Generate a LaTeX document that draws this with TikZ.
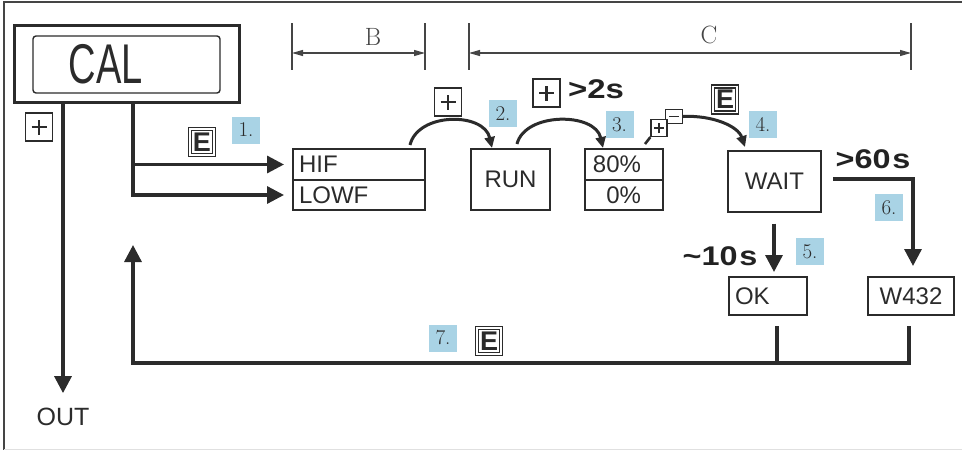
\documentclass[tikz,border=0pt]{standalone}
\usepackage{fontspec}
\newfontfamily\sans{Liberation Sans}
\usetikzlibrary{arrows.meta}
\definecolor{ink}{HTML}{2B2B2B}
\definecolor{lblue}{HTML}{A9D3E5}
\definecolor{dimc}{HTML}{454545}
\begin{document}
\begin{tikzpicture}[x=1pt,y=-1pt,
  box/.style={draw=ink, line width=2pt, inner sep=0pt, font=\sans\fontsize{24}{28}\selectfont, text=ink},
  num/.style={fill=lblue, minimum width=28pt, minimum height=27pt, inner sep=0pt, font=\fontsize{21}{22}\selectfont, text=ink},
  pluskey/.style={draw=ink, fill=white, line width=1.8pt, minimum width=27pt, minimum height=28pt, inner sep=0pt,
    path picture={\draw[ink, line width=2.2pt] ([xshift=-7.5pt]path picture bounding box.center) -- ([xshift=7.5pt]path picture bounding box.center) ([yshift=-7.5pt]path picture bounding box.center) -- ([yshift=7.5pt]path picture bounding box.center);}},
  ekey/.style={draw=ink, double, double distance=1.1pt, line width=1.5pt, minimum width=24pt, minimum height=26pt, inner sep=0pt, font=\sans\bfseries\fontsize{27}{27}\selectfont, text=ink},
  flow/.style={draw=ink, line width=3.3pt, -{Triangle[length=17pt,width=17pt]}},
  plain/.style={draw=ink, line width=3.3pt},
  arcflow/.style={draw=ink, line width=3pt, -{Triangle[length=11pt,width=10pt]}},
  dim/.style={draw=dimc, line width=1.1pt},
  dimtip/.style={dim, {Triangle[length=11pt,width=6pt]}-{Triangle[length=11pt,width=6pt]}},
  boldtxt/.style={font=\sans\bfseries\fontsize{27}{27}\selectfont, text=ink!80!black, inner sep=0pt},
  dimtxt/.style={font=\fontsize{25}{25}\selectfont, text=dimc, inner sep=0pt}
]
\useasboundingbox (0,0) rectangle (962,450);
% outer frame
\draw[line width=1.5pt, dimc] (4,450) -- (4,2) -- (962,2);
\draw[line width=1pt, black!12] (4,449) -- (962,449);

% CAL display
\node[draw=ink, line width=2.5pt, minimum width=225pt, minimum height=77pt, inner sep=0pt] (calf) at (127,64) {};
\node[draw=ink, line width=1.4pt, rounded corners=3pt, minimum width=187pt, minimum height=57pt, inner sep=0pt] (cald) at (126.5,64.5) {};
\node[font=\sans\fontsize{56}{56}\selectfont, text=ink, inner sep=0pt] (cal) at (106,64) {\scalebox{0.68}[1]{CAL}};

% dimension lines
\coordinate (b1t) at (292,23); \coordinate (b1b) at (292,70);
\coordinate (b2t) at (425,23); \coordinate (b2b) at (425,70);
\coordinate (c1t) at (469,23); \coordinate (c1b) at (469,70);
\coordinate (c2t) at (911,23); \coordinate (c2b) at (911,70);
\draw[dim] (b1t) -- (b1b); \draw[dim] (b2t) -- (b2b);
\draw[dim] (c1t) -- (c1b); \draw[dim] (c2t) -- (c2b);
\coordinate (ba) at (292,53); \coordinate (bb) at (425,53);
\coordinate (ca) at (469,53); \coordinate (cb) at (911,53);
\draw[dimtip] (ba) -- (bb);
\draw[dimtip] (ca) -- (cb);
\node[dimtxt] (lb) at (373,37) {B};
\node[dimtxt] (lc) at (709,35) {C};

% boxes
\node[box, minimum width=132pt, minimum height=31pt, text width=120pt, align=left] (hif) at (359,164.5) {HIF};
\node[box, minimum width=132pt, minimum height=30pt, text width=120pt, align=left] (lowf) at (359,195) {LOWF};
\node[box, minimum width=79pt, minimum height=61pt] (run) at (510.5,179.5) {RUN};
\node[box, minimum width=78pt, minimum height=31pt] (p80) at (624,164.5) {};
\node[box, minimum width=78pt, minimum height=30pt] (p0) at (624,195) {};
\node[box, draw=none, anchor=east] (t80) at (642,164.5) {80\%};
\node[box, draw=none, anchor=east] (t0) at (642,195) {0\%};
\node[box, minimum width=93pt, minimum height=61pt] (wait) at (774.5,181) {WAIT};
\node[box, minimum width=78pt, minimum height=38pt, text width=66pt, align=left] (ok) at (768,296) {OK};
\node[box, minimum width=86pt, minimum height=38pt] (w432) at (911,296) {W432};

% OUT
\node[font=\sans\fontsize{25}{25}\selectfont, text=ink] (outn) at (63,417) {OUT};
\draw[flow, shorten >=11.5pt] (calf.south -| outn) -- (outn.north);

% branches to HIF / LOWF
\coordinate (cbr) at (133,102.5);
\draw[flow, shorten >=8pt] (cbr) |- (lowf.west);
\draw[flow, shorten >=8pt] (cbr |- hif.west) -- (hif.west);

% arcs
\coordinate (a1s) at (410,145); \coordinate (a1e) at (492,148);
\coordinate (a2s) at (517,144); \coordinate (a2e) at (603,148);
\draw[arcflow] (a1s) .. controls (418,112) and (484,112) .. (a1e);
\draw[arcflow] (a2s) .. controls (525,112) and (595,112) .. (a2e);
\coordinate (a3e) at (745,147);
\node[draw=ink, fill=white, line width=1.3pt, minimum width=17pt, minimum height=14pt, inner sep=0pt,
  path picture={\draw[ink, line width=1.6pt] ([xshift=-5pt]path picture bounding box.center) -- ([xshift=5pt]path picture bounding box.center);}] (mk) at (674,116.5) {};
\draw[arcflow] (mk.east) .. controls (712,115) and (738,126) .. (a3e);
\node[draw=ink, fill=white, line width=1.3pt, minimum width=16pt, minimum height=17pt, inner sep=0pt,
  path picture={\draw[ink, line width=1.6pt] ([xshift=-5pt]path picture bounding box.center) -- ([xshift=5pt]path picture bounding box.center) ([yshift=-5pt]path picture bounding box.center) -- ([yshift=5pt]path picture bounding box.center);}] (pk) at (659,128) {};
\coordinate (pkl) at (645,144);
\draw[plain, line width=2.6pt] (pk.south west) -- (pkl);

% WAIT -> OK, WAIT -> W432
\coordinate (okn) at ([xshift=6pt]ok.north);
\draw[flow, shorten <=11pt, shorten >=4pt] (wait.south -| okn) -- (okn);
\coordinate (w6s) at (833,179);
\coordinate (w6e) at ([xshift=2pt]w432.north);
\draw[flow, shorten >=10pt] (w6s) -| (w6e);

% return path
\coordinate (oks) at ([yshift=-10pt,xshift=9pt]ok.south);
\coordinate (ws) at ([yshift=-10pt,xshift=-2pt]w432.south);
\coordinate (bot) at (133,363);
\coordinate (ret) at (133,245);
\draw[flow] (ws) |- (bot) -- (ret);
\draw[plain] (oks) -- (oks |- bot);

% keys
\node[pluskey] (k0) at (39,127) {};
\node[pluskey] (k1) at (448,102) {};
\node[pluskey] (k2) at (546.5,93) {};
\node[ekey] (e1) at (202,142) {E};
\node[ekey] (e4) at (725,99.5) {E};
\node[ekey] (e7) at (489,341) {E};

% timing texts
\node[boldtxt] (s2) at (596,89) {\scalebox{1.22}[1]{>2s}};
\node[boldtxt] (s60) at (873,159) {\scalebox{1.2}[1]{>60\kern1.5pt s}};
\node[boldtxt] (s10) at (720,256) {\scalebox{1.2}[1]{\textasciitilde 10\kern1.5pt s}};

% step numbers
\node[num] (n1) at (246,130) {1.};
\node[num] (n2) at (503,113.5) {2.};
\node[num] (n3) at (619.5,124.5) {3.};
\node[num] (n4) at (763,124.5) {4.};
\node[num] (n5) at (810,251.5) {5.};
\node[num] (n6) at (889,207.5) {6.};
\node[num] (n7) at (443,338) {7.};
\end{tikzpicture}
\end{document}
